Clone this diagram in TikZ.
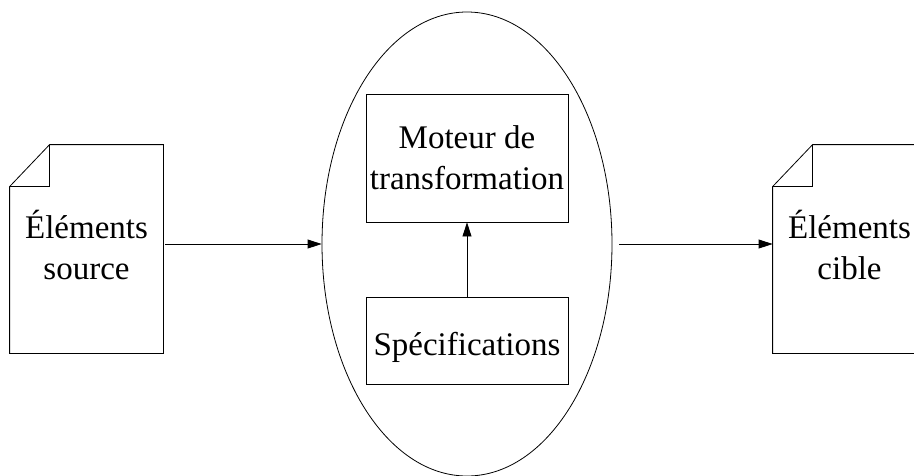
\documentclass[tikz,border=0pt]{standalone}
\usepackage{fontspec}
\setmainfont{Liberation Serif}
\usetikzlibrary{arrows.meta,shapes.geometric}

\begin{document}
\begin{tikzpicture}[x=1pt,y=-1pt,line width=0.8pt,
    texte/.style={font=\fontsize{33}{41}\selectfont, align=center, inner sep=0pt},
    boite/.style={texte, draw, minimum width=202pt},
    feuille/.style={minimum width=153pt, minimum height=208pt, inner sep=0pt},
    fleche/.style={-{Triangle[length=14pt,width=9pt]}}]
    \useasboundingbox (0,0) rectangle (914,475);
    \clip (0,0) rectangle (914,475);
    % moteur de transformation
    \node[draw, ellipse, minimum width=290pt, minimum height=464pt, inner sep=0pt] (transfo) at (467,244) {};
    \node[boite, minimum height=128pt] (moteur) at (467,158) {Moteur de\\transformation};
    \node[boite, minimum height=87pt, text height=29pt, text depth=0pt] (spec) at (467,340.5) {Spécifications};
    \draw[fleche] (spec) -- (moteur);
    % éléments source
    \node[feuille] (source) at (86.5,249) {};
    \node[texte] (sourcetxt) at ([yshift=4pt]source.center) {Éléments\\source};
    \draw (source.south west) -- (source.south east) -- (source.north east)
        -- ([xshift=40pt]source.north west) -- ([yshift=-42pt]source.north west) -- cycle;
    \draw ([xshift=40pt]source.north west) |- ([yshift=-42pt]source.north west);
    % éléments cible
    \node[feuille] (cible) at (849.5,249) {};
    \node[texte] (cibletxt) at ([yshift=4pt]cible.center) {Éléments\\cible};
    \draw (cible.south west) -- (cible.south east) -- (cible.north east)
        -- ([xshift=40pt]cible.north west) -- ([yshift=-42pt]cible.north west) -- cycle;
    \draw ([xshift=40pt]cible.north west) |- ([yshift=-42pt]cible.north west);
    % flèches
    \draw[fleche, shorten <=2pt] (source.east |- transfo.west) -- (transfo.west);
    \draw[fleche, shorten <=7pt] (transfo.east) -- (cible.west |- transfo.east);
\end{tikzpicture}
\end{document}
